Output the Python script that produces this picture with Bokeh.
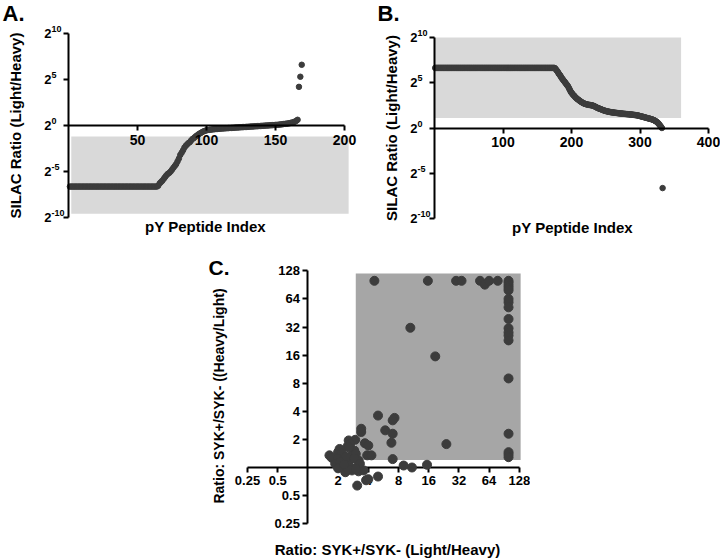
import numpy as np
from bokeh.plotting import figure
from bokeh.models import Label, FixedTicker, Spacer
from bokeh.layouts import row, column
from bokeh.embed import file_html
from bokeh.resources import INLINE

FONT = "Liberation Sans"
PT = "#3c3c3c"

# ---------------- Panel A : log2 SILAC ratio (Light/Heavy) ----------------
a_plateau = [-6.64] * 64
a_rise = [-6.55, -6.3, -6.15, -6.0, -5.8, -5.6, -5.4, -5.25, -5.15, -5.0,
          -4.8, -4.6, -4.4, -4.2, -3.9, -3.6, -3.2, -2.95, -2.7, -2.4,
          -2.2, -2.05, -1.9, -1.8, -1.6, -1.45, -1.35, -1.2, -1.1, -0.98,
          -0.88, -0.8, -0.7, -0.63, -0.57, -0.52]
a_top = [-0.49, -0.47, -0.45, -0.43, -0.41, -0.40, -0.38, -0.37, -0.35, -0.34,
         -0.33, -0.32, -0.31, -0.30, -0.29, -0.28, -0.27, -0.26, -0.25, -0.24,
         -0.23, -0.22, -0.21, -0.20, -0.19, -0.18, -0.17, -0.16, -0.15, -0.14,
         -0.13, -0.12, -0.11, -0.10, -0.09, -0.08, -0.07, -0.06, -0.05, -0.04,
         -0.03, -0.02, -0.01, 0.0, 0.01, 0.02, 0.03, 0.04, 0.05, 0.06,
         0.07, 0.08, 0.10, 0.12, 0.14, 0.16, 0.18, 0.20, 0.22, 0.25,
         0.28, 0.32, 0.36, 0.42, 0.50, 0.62]
a_log2 = a_plateau + a_rise + a_top
a_index = list(range(1, len(a_log2) + 1))
a_outlier_index = [167, 168, 169]
a_outlier_log2 = [4.2, 5.3, 6.6]
a_box_x = [2, 203]
a_box_log2 = [-9.6, -1.2]
a_xticks = [50, 100, 150, 200]

# ---------------- Panel B ----------------
b_plateau = [6.64] * 175
b_decline = [6.6, 6.5, 6.4, 6.3, 6.2, 6.05, 5.95, 5.85, 5.75, 5.6,
             5.5, 5.4, 5.3, 5.2, 5.1, 5.0, 4.9, 4.8, 4.7, 4.6,
             4.45, 4.3, 4.15, 4.0, 3.9, 3.8, 3.7, 3.62, 3.55, 3.45,
             3.38, 3.3, 3.24, 3.18, 3.12, 3.06, 3.0, 2.95, 2.9, 2.85,
             2.8, 2.76, 2.72, 2.69, 2.66, 2.64, 2.62, 2.6, 2.58, 2.56,
             2.55, 2.54, 2.53, 2.51, 2.5, 2.48, 2.45, 2.42, 2.38, 2.34,
             2.3, 2.26, 2.22, 2.19, 2.16, 2.13, 2.1, 2.07, 2.04, 2.01,
             1.98, 1.95, 1.92, 1.9, 1.88, 1.86, 1.84, 1.82, 1.8, 1.79,
             1.77, 1.76, 1.74, 1.73, 1.72, 1.71, 1.7, 1.69, 1.68, 1.67,
             1.66, 1.65, 1.64, 1.63, 1.62, 1.61, 1.6, 1.6, 1.59, 1.58,
             1.57, 1.56, 1.56, 1.55, 1.54, 1.53, 1.53, 1.52, 1.51, 1.5,
             1.5, 1.49, 1.48, 1.47, 1.46, 1.45, 1.44, 1.43, 1.42, 1.41,
             1.4, 1.38, 1.36, 1.34, 1.32, 1.3, 1.28, 1.26, 1.24, 1.22,
             1.2, 1.18, 1.15, 1.13, 1.11, 1.09, 1.07, 1.05, 1.03, 1.01,
             0.99, 0.97, 0.94, 0.91, 0.88, 0.84, 0.8, 0.75, 0.7, 0.64,
             0.57, 0.49, 0.4, 0.3, 0.2, 0.1, 0.0]
b_outlier = [-6.64]
b_log2 = b_plateau + b_decline + b_outlier
b_index = list(range(1, len(b_log2) + 1))
b_box_x = [0, 360]
b_box_log2 = [1.1, 10]
b_xticks = [100, 200, 300, 400]

log2_ticks = [-10, -5, 0, 5, 10]
log2_exps = ["-10", "-5", "0", "5", "10"]

# ---------------- Panel C ----------------
c_x = [4.6, 15.7, 30, 34, 52, 58, 64, 78,
       100, 100, 100, 100, 100, 100, 100, 100, 100, 100, 100, 100, 100, 100, 100, 100, 100, 100,
       10.5, 18.6,
       5.0, 7.3, 7.0, 3.4, 3.4, 5.9, 7.0, 6.8, 24, 7.0, 9.0, 10.9, 15.4, 3.7, 4.0, 3.9, 4.3,
       5.0, 3.8, 4.0, 3.1,
       2.55, 2.96, 2.64, 2.48, 2.07, 2.0, 2.9, 2.8, 2.13, 1.64, 1.73, 2.2, 2.55, 3.0, 2.0,
       2.27, 2.55, 1.87, 2.2, 2.64, 3.2, 2.36, 2.75, 3.2, 3.2, 3.6, 2.4, 2.9, 3.3, 2.1,
       2.5, 3.0, 2.0, 2.3]
c_y = [100, 100, 100, 100, 100, 91, 100, 100,
       100, 95, 89, 84, 79, 64, 59, 52, 39, 31, 28, 26, 23, 9, 2.3, 1.46, 1.38, 1.29,
       31.4, 15.5,
       3.6, 3.4, 3.2, 2.6, 2.4, 2.5, 2.3, 1.84, 1.78, 1.23, 1.05, 1.0, 1.07, 1.82, 1.72, 1.35, 1.35,
       0.8, 0.73, 0.75, 0.64,
       1.95, 1.98, 1.78, 1.68, 1.58, 1.46, 1.52, 1.4, 1.42, 1.35, 1.27, 1.4, 1.65, 1.4, 1.24,
       1.19, 1.14, 1.1, 1.05, 1.0, 1.05, 0.89, 0.93, 0.91, 1.19, 0.93, 1.3, 1.25, 1.1, 1.15,
       0.95, 0.97, 0.98, 1.08]
c_box_x = [3, 132]
c_box_y = [1.2, 120]
c_ticks = [0.25, 0.5, 2, 4, 8, 16, 32, 64, 128]
c_tick_labels = ["0.25", "0.5", "2", "4", "8", "16", "32", "64", "128"]


class PixMap:
    """Maps canvas pixel positions to data coordinates (frame == whole canvas)."""
    def __init__(self, W, H, x0px, sx, y0py, sy, log=False):
        self.W, self.H, self.x0px, self.sx, self.y0py, self.sy, self.log = W, H, x0px, sx, y0py, sy, log

    def x(self, px):
        v = (px - self.x0px) / self.sx
        return 2 ** v if self.log else v

    def y(self, py):
        v = (self.y0py - py) / self.sy
        return 2 ** v if self.log else v

    def xr(self):
        return (self.x(0), self.x(self.W))

    def yr(self):
        return (self.y(self.H), self.y(0))


def base_fig(m, xt="linear", yt="linear"):
    p = figure(width=m.W, height=m.H, x_range=m.xr(), y_range=m.yr(),
               x_axis_type=xt, y_axis_type=yt,
               output_backend="svg", toolbar_location=None,
               min_border=0, min_border_left=0, min_border_right=0,
               min_border_top=0, min_border_bottom=0)
    p.grid.visible = False
    p.outline_line_color = None
    p.background_fill_color = "white"
    p.border_fill_color = "white"
    return p


def style_axis(ax, size, standoff):
    ax.axis_line_width = 2
    ax.axis_line_color = "black"
    ax.major_tick_line_width = 2
    ax.major_tick_line_color = "black"
    ax.major_tick_out = 5
    ax.major_tick_in = 0
    ax.minor_tick_line_color = None
    ax.major_label_text_font = FONT
    ax.major_label_text_font_style = "bold"
    ax.major_label_text_font_size = f"{size}px"
    ax.major_label_text_color = "black"
    ax.major_label_standoff = standoff
    ax.axis_label = None


def lab(p, x, y, text, size, align="left", base="middle", angle=0.0):
    p.add_layout(Label(x=x, y=y, text=text,
                       text_font=FONT, text_font_style="bold",
                       text_font_size=f"{size}px", text_color="black",
                       text_align=align, text_baseline=base, angle=angle))


def index_panel(m, box_x, box_y, xs, ys, extra_x, extra_y, xticks, xbound,
                tag, tag_px, ytitle_px, xtitle_px):
    p = base_fig(m)
    p.quad(left=[box_x[0]], right=[box_x[1]], bottom=[box_y[0]], top=[box_y[1]],
           fill_color="#d9d9d9", line_color=None)
    p.scatter(xs, ys, size=5.5, color=PT, line_color=PT)
    if extra_x:
        p.scatter(extra_x, extra_y, size=5.5, color=PT, line_color=PT)
    p.xaxis.fixed_location = 0
    p.xaxis.bounds = (0, xbound)
    p.xaxis.ticker = FixedTicker(ticks=xticks)
    style_axis(p.xaxis[0], 14, 4)
    p.yaxis.fixed_location = 0
    p.yaxis.bounds = (-10, 10)
    p.yaxis.ticker = FixedTicker(ticks=log2_ticks)
    p.yaxis.major_label_overrides = {t: "2" for t in log2_ticks}
    style_axis(p.yaxis[0], 13, 12)
    for t, e in zip(log2_ticks, log2_exps):
        lab(p, m.x(m.x0px - 17), t + 4.5 / m.sy, e, 9)
    lab(p, m.x(tag_px), m.y(0), tag, 22, base="top")
    lab(p, m.x(ytitle_px[0]), m.y(ytitle_px[1]), "SILAC Ratio (Light/Heavy)", 15,
        align="center", angle=np.pi / 2)
    lab(p, m.x(xtitle_px[0]), m.y(xtitle_px[1]), "pY Peptide Index", 15, align="center")
    return p


mA = PixMap(360, 236, 68, 1.38, 125, 9.2)
mB = PixMap(360, 236, 74, 0.685, 127.5, 9.05)
mC = PixMap(330, 322, 107.4, 30.2, 231, 28.1, log=True)

pA = index_panel(mA, a_box_x, a_box_log2, a_index, a_log2, a_outlier_index, a_outlier_log2,
                 a_xticks, 200, "A.", 2, (15, 125), (205, 226))
pB = index_panel(mB, b_box_x, b_box_log2, b_index, b_log2, None, None,
                 b_xticks, 400, "B.", 17, (31, 127.5), (212, 226.5))

# ---------------- Panel C figure ----------------
pC = base_fig(mC, xt="log", yt="log")
pC.quad(left=[c_box_x[0]], right=[c_box_x[1]], bottom=[c_box_y[0]], top=[c_box_y[1]],
        fill_color="#a6a6a6", line_color=None)
pC.scatter(c_x, c_y, size=9, color=PT, line_color=PT, level="overlay")
overrides = dict(zip(c_ticks, c_tick_labels))
pC.xaxis.fixed_location = 1
pC.xaxis.bounds = (0.25, 128)
pC.xaxis.ticker = FixedTicker(ticks=c_ticks)
pC.xaxis.major_label_overrides = overrides
style_axis(pC.xaxis[0], 13, 3)
pC.yaxis.fixed_location = 1
pC.yaxis.bounds = (0.25, 128)
pC.yaxis.ticker = FixedTicker(ticks=c_ticks)
pC.yaxis.major_label_overrides = overrides
style_axis(pC.yaxis[0], 13, 3)
lab(pC, mC.x(8), mC.y(19), "C.", 21, base="top")
lab(pC, mC.x(18), mC.y(159.5), "Ratio: SYK+/SYK- ((Heavy/Light)", 14, align="center",
    angle=np.pi / 2)
lab(pC, mC.x(187), mC.y(313), "Ratio: SYK+/SYK- (Light/Heavy)", 15, align="center")

layout = column(row(pA, pB), row(Spacer(width=200, height=322), pC))

with open("out.html", "w") as f:
    f.write(file_html(layout, INLINE, title="SILAC ratios"))
